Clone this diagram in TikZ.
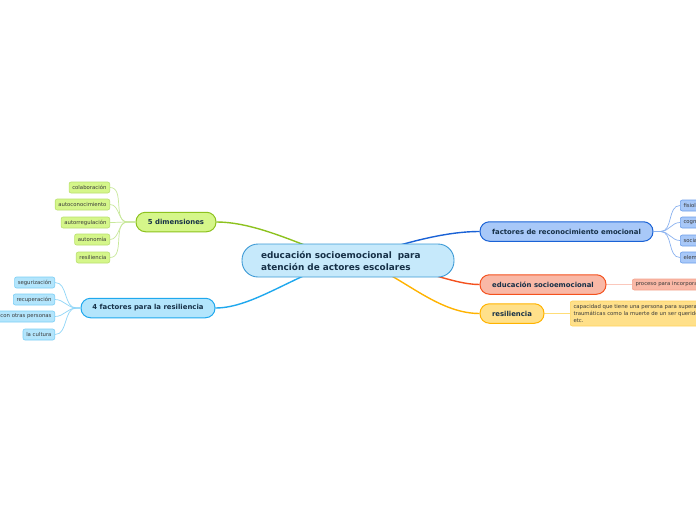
\documentclass[tikz,border=0pt]{standalone}
\usepackage{fontspec}
\setmainfont{DejaVu Sans}
\definecolor{txt}{HTML}{163047}
\definecolor{leaftxt}{HTML}{3A3A3A}
\definecolor{cfill}{HTML}{C6E9FB}\definecolor{cdraw}{HTML}{3D9AD6}
\definecolor{gfill}{HTML}{D5F68A}\definecolor{gdraw}{HTML}{8DC21F}\definecolor{glink}{HTML}{C8E89A}\definecolor{gleafdraw}{HTML}{B9E06E}
\definecolor{afill}{HTML}{B3E5FC}\definecolor{adraw}{HTML}{1FA8EE}\definecolor{alink}{HTML}{8FD6F8}\definecolor{aleafdraw}{HTML}{7CCFF6}
\definecolor{bfill}{HTML}{A8C8F8}\definecolor{bdraw}{HTML}{1A62D6}\definecolor{blink}{HTML}{8AB2F0}\definecolor{bleafdraw}{HTML}{6C9EEA}
\definecolor{rfill}{HTML}{F9B8A6}\definecolor{rdraw}{HTML}{F4511E}\definecolor{rlink}{HTML}{FBC8BC}\definecolor{rleafdraw}{HTML}{F5A48E}
\definecolor{yfill}{HTML}{FFE08A}\definecolor{ydraw}{HTML}{FFB300}\definecolor{ylink}{HTML}{FFDD77}\definecolor{yleafdraw}{HTML}{FFD35A}
\tikzset{
  central/.style={draw=cdraw,fill=cfill,line width=0.9pt,rounded corners=16pt,minimum width=212pt,minimum height=33pt,text width=174pt,align=left,inner sep=0pt,text=txt,font=\fontsize{8.9}{12}\selectfont\bfseries},
  topic/.style={line width=1pt,rounded corners=9.5pt,minimum height=19.5pt,inner sep=0pt,text=txt,font=\fontsize{6.9}{8}\selectfont\bfseries},
  leaf/.style={line width=0.6pt,rounded corners=2pt,minimum height=11pt,inner ysep=0pt,inner xsep=3.2pt,text=leaftxt,font=\fontsize{5.35}{7}\selectfont},
  mainlink/.style={line width=1.4pt},
  leaflink/.style={line width=0.7pt},
}
\begin{document}
\begin{tikzpicture}[x=1pt,y=-1pt]
\useasboundingbox (0,0) rectangle (696,520);
\clip (0,0) rectangle (696,520);
\fill[white] (0,0) rectangle (696,520);
% coordinates
\coordinate (cc) at (348,260.5);
% topics
\node[topic,draw=gdraw,fill=gfill,minimum width=80pt] (dim) at (176,222) {5 dimensiones};
\node[topic,draw=adraw,fill=afill,minimum width=134pt] (fac) at (148,308) {4 factores para la resiliencia};
\node[topic,draw=bdraw,fill=bfill,minimum width=173pt] (rec) at (566.5,231.5) {factores de reconocimiento emocional};
\node[topic,draw=rdraw,fill=rfill,minimum width=126pt] (edu) at (543,284.5) {educación socioemocional};
\node[topic,draw=ydraw,fill=yfill,minimum width=64pt] (res) at (512,313.5) {resiliencia};
% main links
\draw[mainlink,gdraw] (cc) .. controls (310,250) and (260,222) .. (dim.east);
\draw[mainlink,adraw] (cc) .. controls (300,270) and (255,308) .. (fac.east);
\draw[mainlink,bdraw] (cc) .. controls (385,250) and (435,231.5) .. (rec.west);
\draw[mainlink,rdraw] (cc) .. controls (420,265) and (450,284.5) .. (edu.west);
\draw[mainlink,ydraw] (cc) .. controls (390,262) and (430,313.5) .. (res.west);
% central
\node[central] (c) at (cc) {educación socioemocional\ \ para\\atención de actores escolares};
% green leaves
\node[leaf,draw=gleafdraw,fill=gfill,anchor=east] (g1) at (110,187.5) {colaboración};
\node[leaf,draw=gleafdraw,fill=gfill,anchor=east] (g2) at (110,204.5) {autoconocimiento};
\node[leaf,draw=gleafdraw,fill=gfill,anchor=east] (g3) at (110,222.5) {autorregulación};
\node[leaf,draw=gleafdraw,fill=gfill,anchor=east] (g4) at (110,239.5) {autonomía};
\node[leaf,draw=gleafdraw,fill=gfill,anchor=east] (g5) at (110,257.5) {resiliencia};
\foreach \n in {g1,g2,g3,g4,g5}
  \draw[leaflink,glink] (dim.west) -- ++(-8,0) to[out=180,in=0] (\n.east);
% cyan leaves
\node[leaf,draw=aleafdraw,fill=afill,anchor=east] (a1) at (55,282.5) {segurización};
\node[leaf,draw=aleafdraw,fill=afill,anchor=east] (a2) at (55,299.5) {recuperación};
\node[leaf,draw=aleafdraw,fill=afill,anchor=east] (a3) at (55,316.5) {con otras personas};
\node[leaf,draw=aleafdraw,fill=afill,anchor=east] (a4) at (55,334.5) {la cultura};
\foreach \n in {a1,a2,a3,a4}
  \draw[leaflink,alink] (fac.west) -- ++(-4,0) to[out=180,in=0] (\n.east);
% blue leaves
\node[leaf,draw=bleafdraw,fill=bfill,anchor=west] (b1) at (680,205.5) {fisiológicos};
\node[leaf,draw=bleafdraw,fill=bfill,anchor=west] (b2) at (680,222.5) {cognitivos};
\node[leaf,draw=bleafdraw,fill=bfill,anchor=west] (b3) at (680,240.5) {sociales};
\node[leaf,draw=bleafdraw,fill=bfill,anchor=west] (b4) at (680,257.5) {elementos};
\foreach \n in {b1,b2,b3,b4}
  \draw[leaflink,blink] (rec.east) -- ++(7,0) to[out=0,in=180] (\n.west);
% edu leaf
\node[leaf,draw=rleafdraw,fill=rfill,anchor=west] (r1) at (632,284.5) {proceso para incorporar};
\draw[rlink,line width=1.6pt] (edu.east) -- (r1.west);
% resiliencia leaf
\node[leaf,draw=yleafdraw,fill=yfill,anchor=west,align=left,inner ysep=2pt,minimum height=25pt] (y1) at (570,313.5) {capacidad que tiene una persona para superar\\traumáticas como la muerte de un ser querido\\etc.};
\draw[ylink,line width=1pt] (res.east) -- (y1.west);
\end{tikzpicture}
\end{document}
